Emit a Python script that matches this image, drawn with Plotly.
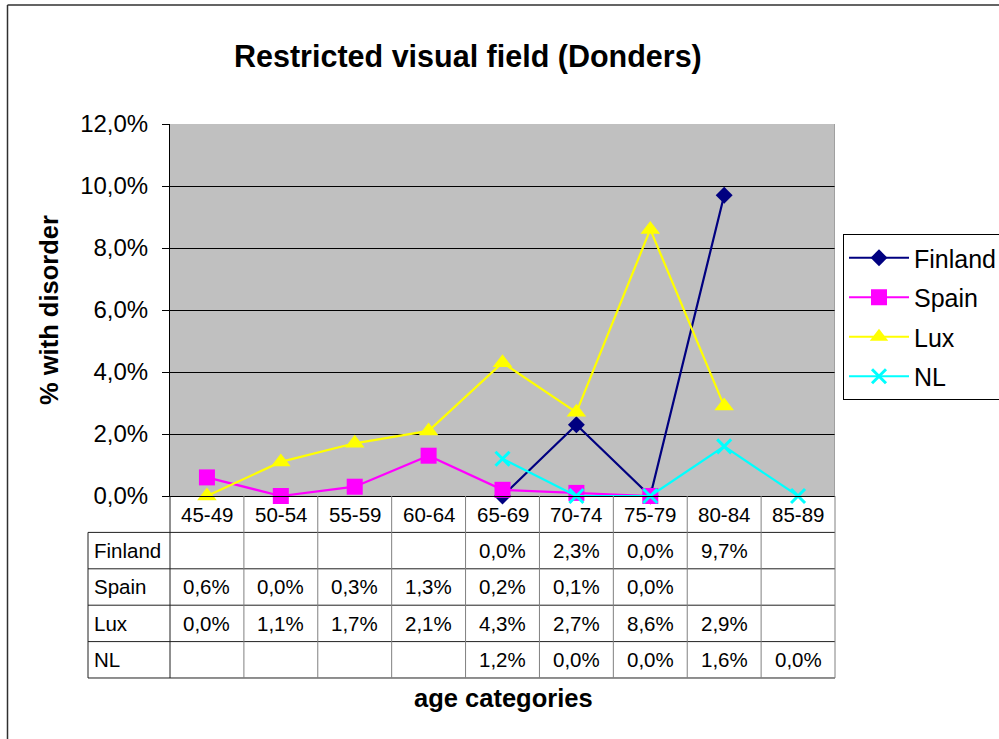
import plotly.graph_objects as go

categories = ["45-49", "50-54", "55-59", "60-64", "65-69", "70-74", "75-79", "80-84", "85-89"]
series_names = ["Finland", "Spain", "Lux", "NL"]
finland = [None, None, None, None, 0.0, 2.3, 0.0, 9.7, None]
spain = [0.6, 0.0, 0.3, 1.3, 0.2, 0.1, 0.0, None, None]
lux = [0.0, 1.1, 1.7, 2.1, 4.3, 2.7, 8.6, 2.9, None]
nl = [None, None, None, None, 1.2, 0.0, 0.0, 1.6, 0.0]
y_ticks = [0, 2, 4, 6, 8, 10, 12]

series_values = [finland, spain, lux, nl]
colors = ["#000080", "#FF00FF", "#FFFF00", "#00FFFF"]
symbols = ["diamond", "square", "triangle-up", "x-thin"]
sizes = [13, 16, 17, 14]

FONT = "Liberation Sans, Arial, sans-serif"
W, H = 999, 739

# pixel layout
PL, PR, PT, PB = 170, 835, 124, 496
TB = 678
u = (PR - PL) / len(categories)
TL = 88
x2_lo, x2_hi = -(PL - TL) / u - 0.03, len(categories) + 0.03
nrows = 5
rh = (TB - PB) / nrows
y2_lo, y2_hi = -0.03, nrows + 0.03

fig = go.Figure()
xs = [i + 0.5 for i in range(len(categories))]
for name, vals, c, s, sz in zip(series_names, series_values, colors, symbols, sizes):
    fig.add_trace(go.Scatter(
        x=xs, y=[None if v is None else v / 100 for v in vals],
        name=name, mode="lines+markers", legendgroup=name,
        line=dict(color=c, width=2.2),
        marker=dict(symbol=s, size=sz, color=c, line=dict(color=c, width=3 if s == "x-thin" else 0)),
        cliponaxis=False, connectgaps=False,
    ))

shapes = []
# gray plot area background
shapes.append(dict(type="rect", xref="x", yref="y", x0=0, x1=9, y0=0, y1=0.12, layer="below",
                   fillcolor="#C0C0C0", line=dict(width=0)))
# right border of plot area
shapes.append(dict(type="line", xref="x", yref="y", x0=9, x1=9, y0=0, y1=0.12,
                   line=dict(color="#808080", width=1)))
# table lines
def hline(y, x0, x1, color="#202020"):
    shapes.append(dict(type="line", xref="x2", yref="y2", x0=x0, x1=x1, y0=y, y1=y,
                       line=dict(color=color, width=1)))
def vline(x, y0, y1, color="#808080"):
    shapes.append(dict(type="line", xref="x2", yref="y2", x0=x, x1=x, y0=y0, y1=y1,
                       line=dict(color=color, width=1)))
left = -(PL - TL) / u
for r in range(1, nrows + 1):
    hline(r, left, len(categories))
for i in range(len(categories) + 1):
    vline(i, 0, nrows, "#202020" if i == 0 else "#808080")
vline(left, 1, nrows, "#202020")

annotations = []
TF = 20.5
for i, cat in enumerate(categories):
    annotations.append(dict(xref="x2", yref="y2", x=i + 0.5, y=0.5, text=cat, showarrow=False,
                            font=dict(family=FONT, size=TF, color="black")))
for r, (name, vals) in enumerate(zip(series_names, series_values), start=1):
    annotations.append(dict(xref="x2", yref="y2", x=left, y=r + 0.5, text=name, showarrow=False,
                            xanchor="left", xshift=4, font=dict(family=FONT, size=TF, color="black")))
    for i, v in enumerate(vals):
        if v is None:
            continue
        annotations.append(dict(xref="x2", yref="y2", x=i + 0.5, y=r + 0.5,
                                text=f"{v:.1f}%".replace(".", ","), showarrow=False,
                                font=dict(family=FONT, size=TF, color="black")))

annotations.append(dict(xref="paper", yref="paper", x=468 / W, y=1 - 57 / H,
                        xanchor="center", yanchor="middle",
                        text="<b>Restricted visual field (Donders)</b>", showarrow=False,
                        font=dict(family=FONT, size=30.5, color="black")))
annotations.append(dict(xref="paper", yref="paper", x=49 / W, y=1 - 310 / H, textangle=-90,
                        xanchor="center", yanchor="middle",
                        text="<b>% with disorder</b>", showarrow=False,
                        font=dict(family=FONT, size=25.5, color="black")))
annotations.append(dict(xref="paper", yref="paper", x=503 / W, y=1 - 698 / H,
                        xanchor="center", yanchor="middle",
                        text="<b>age categories</b>", showarrow=False,
                        font=dict(family=FONT, size=25.5, color="black")))

# outer frame lines (top and left)
shapes.append(dict(type="line", xref="paper", yref="paper", x0=7.5 / W, x1=1.01, y0=1 - 5 / H, y1=1 - 5 / H,
                   line=dict(color="#303030", width=1.5)))
shapes.append(dict(type="line", xref="paper", yref="paper", x0=7.5 / W, x1=7.5 / W, y0=-0.01, y1=1 - 5 / H,
                   line=dict(color="#303030", width=1.5)))

fig.update_layout(
    width=W, height=H, margin=dict(l=0, r=0, t=0, b=0, autoexpand=False),
    paper_bgcolor="white", plot_bgcolor="rgba(0,0,0,0)",
    separators=",.",
    font=dict(family=FONT, color="black"),
    xaxis=dict(domain=[PL / W, PR / W], range=[0, len(categories)], showticklabels=False,
               showgrid=False, zeroline=False, showline=True, linecolor="black", linewidth=1,
               ticks="", automargin=False),
    yaxis=dict(domain=[1 - PB / H, 1 - PT / H], range=[0, 0.12], tickvals=[t / 100 for t in y_ticks],
               tickformat=".1%", ticks="outside", ticklen=7, tickcolor="black",
               ticklabelstandoff=9,
               showgrid=True, gridcolor="black", gridwidth=1, zeroline=False,
               showline=True, linecolor="black", linewidth=1, automargin=False,
               tickfont=dict(family=FONT, size=24, color="black")),
    xaxis2=dict(domain=[(PL + x2_lo * u) / W, (PL + x2_hi * u) / W], range=[x2_lo, x2_hi],
                visible=False, anchor="y2", automargin=False),
    yaxis2=dict(domain=[1 - (PB + y2_hi * rh) / H, 1 - (PB + y2_lo * rh) / H], range=[y2_hi, y2_lo],
                visible=False, anchor="x2", automargin=False),
    showlegend=True,
    legend=dict(x=843 / W, y=1 - 234 / H, xanchor="left", yanchor="top",
                bgcolor="white", bordercolor="black", borderwidth=1,
                font=dict(family=FONT, size=25, color="black"),
                traceorder="grouped", tracegroupgap=4, itemwidth=60),
    shapes=shapes, annotations=annotations,
)
# dummy trace to create x2/y2 subplot
fig.add_trace(go.Scatter(x=[None], y=[None], xaxis="x2", yaxis="y2", showlegend=False, hoverinfo="skip"))

fig.write_html("out.html", config={"displayModeBar": False},
               post_script="document.body.style.margin='0';document.body.style.padding='0';"
                           "document.body.style.overflow='hidden';"
                           "document.documentElement.style.overflow='hidden';")
